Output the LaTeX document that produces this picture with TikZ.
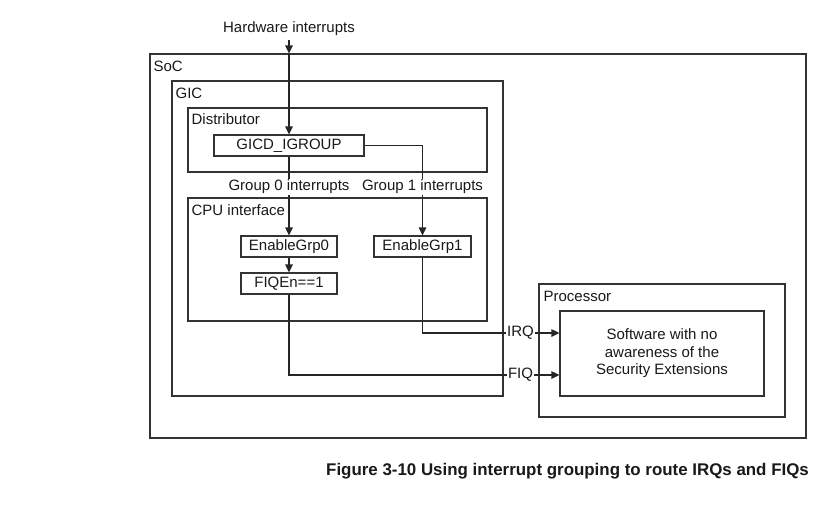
\documentclass[tikz,border=0pt]{standalone}
\usepackage{fontspec}
\setmainfont{Liberation Sans}
\usetikzlibrary{arrows.meta}
\begin{document}
\begin{tikzpicture}[x=1pt,y=-1pt,
  every node/.style={font=\fontsize{15}{17.5}\selectfont, text=black!90},
  box/.style={draw=black!80, line width=1.2pt, inner sep=0pt, rectangle},
  lbl/.style={inner sep=0pt},
  conn/.style={draw=black!85, line width=1.2pt},
  arr/.style={conn, -{Triangle[length=8pt,width=7.5pt]}}]
\useasboundingbox[fill=white] (0,0) rectangle (820,517);
% containers
\node[box, minimum width=656pt, minimum height=384pt] (soc) at (478,246) {};
\node[box, minimum width=331pt, minimum height=315pt] (gic) at (337.5,238.5) {};
\node[box, minimum width=299pt, minimum height=64pt] (dist) at (337.5,140) {};
\node[box, minimum width=299pt, minimum height=123pt] (cpu) at (337.5,259.5) {};
\node[box, minimum width=246pt, minimum height=133pt] (proc) at (662,350.5) {};
% container labels
\node[lbl, anchor=base west] (socl) at ([xshift=4pt,yshift=-18pt]soc.north west) {SoC};
\node[lbl, anchor=base west] (gicl) at ([xshift=4pt,yshift=-18pt]gic.north west) {GIC};
\node[lbl, anchor=base west] (distl) at ([xshift=4pt,yshift=-17pt]dist.north west) {Distributor};
\node[lbl, anchor=base west] (cpul) at ([xshift=4pt,yshift=-18pt]cpu.north west) {CPU interface};
\node[lbl, anchor=base west] (procl) at ([xshift=5pt,yshift=-18pt]proc.north west) {Processor};
% inner boxes
\node[box, minimum width=150pt, minimum height=21pt] (gicd) at (289,145.5) {GICD\_IGROUP};
\node[box, minimum width=96pt, minimum height=21pt] (en0) at (289,246.5) {EnableGrp0};
\node[box, minimum width=97pt, minimum height=21pt] (en1) at (422.5,246.5) {EnableGrp1};
\node[box, minimum width=96pt, minimum height=21pt] (fiqen) at (289,283.5) {FIQEn==1};
\node[box, minimum width=204pt, minimum height=85pt, align=center] (sw) at (662,353.5)
  {Software with no\\awareness of the\\Security Extensions};
% external labels
\node[lbl] (hw) at (289,28.5) {Hardware interrupts};
\node[lbl, inner sep=1pt] (irq) at (520.5,333) {IRQ};
\node[lbl, inner sep=1pt] (fiq) at (520.5,375) {FIQ};
% connectors
\draw[arr, shorten <=4pt] (hw.south) -- (gicd.north |- soc.north);
\draw[arr] (gicd.north |- soc.north) -- (gicd.north);
\draw[arr] (gicd.south) -- (en0.north);
\draw[arr] (gicd.east) -| (en1.north);
\draw[arr] (en0.south) -- (fiqen.north);
\draw[conn] (en1.south) |- (irq.west);
\draw[arr] (irq.east) -- (irq.east -| sw.west);
\draw[conn] (fiqen.south) |- (fiq.west);
\draw[arr] (fiq.east) -- (fiq.east -| sw.west);
% group labels over the lines
\node[lbl, fill=white, inner sep=1.5pt] (g0) at (289,187) {Group 0 interrupts};
\node[lbl, fill=white, inner sep=1.5pt] (g1) at (422.5,187) {Group 1 interrupts};
% caption
\node[font=\fontsize{16.9}{20}\selectfont\bfseries, anchor=east, inner sep=0pt] (cap) at (809,471.5)
  {Figure 3-10 Using interrupt grouping to route IRQs and FIQs};
\end{tikzpicture}
\end{document}
